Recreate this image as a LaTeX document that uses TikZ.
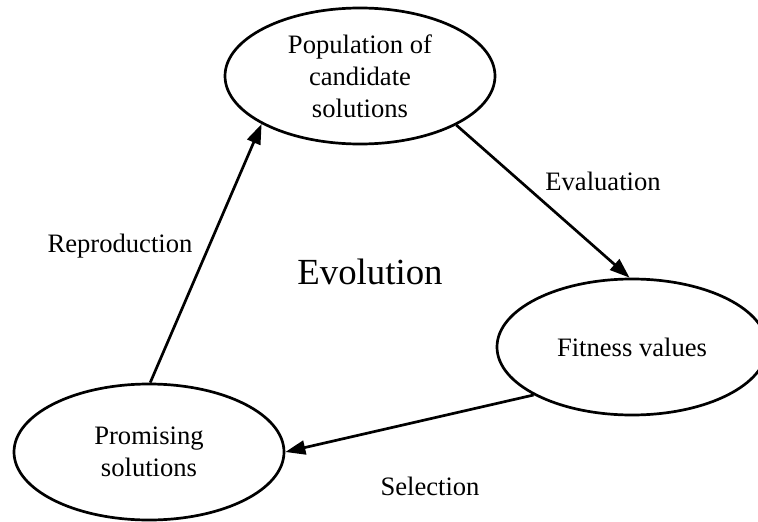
\documentclass[tikz,border=0pt]{standalone}
\usepackage{fontspec}
\setmainfont{Liberation Serif}
\usetikzlibrary{shapes.geometric,arrows.meta}
\begin{document}
\begin{tikzpicture}[x=1pt,y=-1pt,
  stage/.style={ellipse,draw,line width=2.7pt,minimum width=270pt,minimum height=136pt,
    inner sep=0pt,align=center,font=\fontsize{26.6}{32}\selectfont},
  flow/.style={line width=2.7pt,-{Triangle[length=20pt,width=14pt]}},
  tag/.style={font=\fontsize{26.6}{32}\selectfont}]
\useasboundingbox (0,0) rectangle (758,522);
\clip (0,0) rectangle (758,522);
% the three stages of the cycle
\node[stage] (pop) at (360,76) {Population of\\candidate\\solutions};
\node[stage] (fit) at (632,347) {Fitness values};
\node[stage] (prom) at (149,452) {Promising\\solutions};
% transitions between stages
\draw[flow] (pop.333) -- (fit.92);
\draw[flow] (fit.206) -- (prom.east);
\draw[flow] (prom.89) -- (pop.206);
% labels
\node[tag] (eval) at (603,181) {Evaluation};
\node[tag] (sel) at (430,486) {Selection};
\node[tag] (repr) at (120,246) {Reproduction};
\node[font=\fontsize{36.8}{44}\selectfont] (evo) at (370,272) {Evolution};
\end{tikzpicture}
\end{document}
